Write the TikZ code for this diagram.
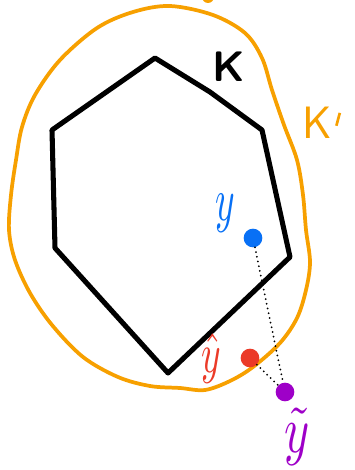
\documentclass[tikz,border=0pt]{standalone}
\usepackage{fontspec}
\begin{document}
\begin{tikzpicture}[x=0.75pt,y=-0.75pt,
  hexline/.style={line width=3.8pt,line join=round,line cap=round},
  setline/.style={draw=korange,line width=2.8pt,line join=round,line cap=round},
  pdot/.style={circle,inner sep=0pt,minimum size=14pt},
  dline/.style={line width=1.5pt,line cap=round,dash pattern=on 0pt off 3.6pt},
  lbl/.style={inner sep=0pt}]
\definecolor{korange}{RGB}{247,160,0}
\definecolor{kblue}{RGB}{8,112,245}
\definecolor{kred}{RGB}{235,58,40}
\definecolor{kpurple}{RGB}{158,0,200}
\useasboundingbox (0,0) rectangle (354,470);
% K'
\draw[setline] plot[smooth cycle,tension=0.55] coordinates {
 (170,6) (213,15) (245,33) (262,58) (272,90) (284,125) (297,160) (303,195)
 (306,230) (310,262) (306,290) (297,318) (280,343) (253,367) (230,381)
 (205,390) (180,388) (150,386) (118,377) (83,357) (52,325) (30,293) (15,260)
 (9,230) (11,195) (16,160) (22,127) (35,95) (60,60) (97,28) (133,12)};
\fill[korange] (208,-3) circle (4.5pt);
% K
\draw[hexline] (155,58) -- (210,92) -- (262,130) -- (290,257) -- (168,373)
  -- (55,248) -- (52,130) -- cycle;
% labels
\node[lbl] (lk) at (229,67) {\fontsize{32}{32}\selectfont\sffamily\bfseries K};
\node[lbl,text=korange] (lkp) at (322,123) {\fontsize{34}{34}\selectfont\sffamily K\kern2pt\raisebox{10pt}{\rotatebox{-15}{\rule{2pt}{10pt}}}};
\node[lbl,text=kblue] (ly) at (225,213) {\scalebox{2.8}[4.6]{$y$}};
\node[lbl,text=kred] (lyh) at (211,358) {\scalebox{2.8}[4.2]{$\hat{y}$}};
\node[lbl,text=kpurple] (lyt) at (297,437) {\scalebox{3.6}[5]{$\tilde{y}$}};
% points
\node[pdot,fill=kblue] (y) at (253,238) {};
\node[pdot,fill=kred] (yh) at (250,358) {};
\node[pdot,fill=kpurple] (yt) at (285,392) {};
\draw[dline] (y) -- (yt);
\draw[dline] (yh) -- (yt);
\end{tikzpicture}
\end{document}
